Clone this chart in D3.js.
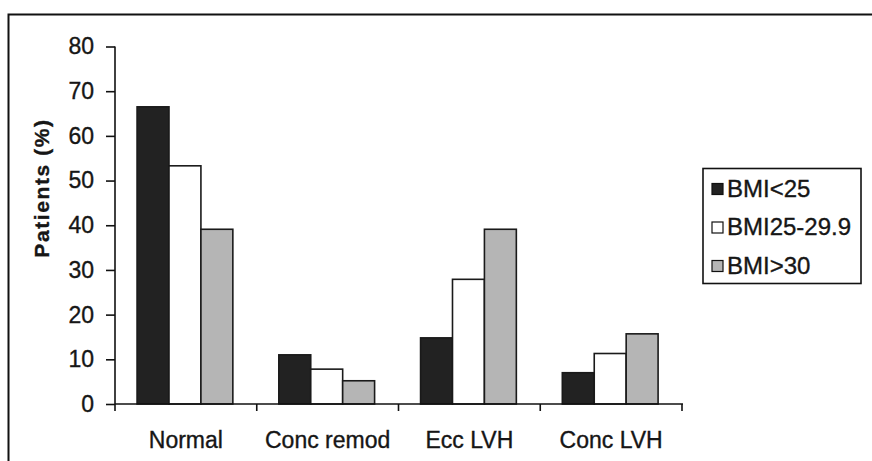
<!DOCTYPE html>
<html>
<head>
<meta charset="utf-8">
<script src="https://cdn.jsdelivr.net/npm/d3@7"></script>
<style>
  body { margin: 0; background: #fff; }
  svg text { font-family: "Liberation Sans", Arial, sans-serif; fill: #161616; stroke: #161616; stroke-width: 0.35px; }
</style>
</head>
<body>
<svg width="872" height="461"></svg>
<script>
var categories = ["Normal", "Conc remod", "Ecc LVH", "Conc LVH"];
var series = ["BMI<25", "BMI25-29.9", "BMI>30"];
var bmiUnder25 = [66.5, 11.0, 14.8, 7.0];
var bmi25to30 = [53.3, 7.8, 27.9, 11.3];
var bmiOver30 = [39.1, 5.2, 39.1, 15.7];
var yTicks = [0, 10, 20, 30, 40, 50, 60, 70, 80];
var colors = ["#222222", "#ffffff", "#b5b5b5"];

var values = [bmiUnder25, bmi25to30, bmiOver30];

var svg = d3.select("svg");

// frame round the figure (only top and left edges show)
svg.append("rect")
    .attr("x", 8.5).attr("y", 14.5)
    .attr("width", 900).attr("height", 500)
    .attr("fill", "none")
    .attr("stroke", "#111")
    .attr("stroke-width", 2);

var x0 = d3.scaleBand()
    .domain(categories)
    .range([115, 682])
    .paddingInner(0);

var x1 = d3.scaleBand()
    .domain(series)
    .range([0, x0.bandwidth()])
    .paddingOuter(0.72)
    .align(0.48);

var y = d3.scaleLinear()
    .domain([0, 80])
    .range([404, 46.5]);

// bars
var groups = svg.append("g")
  .selectAll("g")
  .data(categories)
  .enter().append("g")
    .attr("transform", function(d) { return "translate(" + x0(d) + ",0)"; });

groups.selectAll("rect")
    .data(function(d, i) {
      return series.map(function(s, j) { return {key: s, idx: j, value: values[j][i]}; });
    })
  .enter().append("rect")
    .attr("x", function(d) { return x1(d.key); })
    .attr("y", function(d) { return y(d.value); })
    .attr("width", x1.bandwidth())
    .attr("height", function(d) { return y(0) - y(d.value); })
    .attr("fill", function(d) { return colors[d.idx]; })
    .attr("stroke", "#1a1a1a")
    .attr("stroke-width", 1.6);

// y axis
var yAxis = svg.append("g")
    .attr("transform", "translate(115,0)")
    .call(d3.axisLeft(y).tickValues(yTicks).tickSize(9).tickPadding(12).tickSizeOuter(0));
yAxis.select(".domain").remove();
yAxis.append("line")
    .attr("x1", 0).attr("x2", 0)
    .attr("y1", y(80)).attr("y2", 411)
    .attr("stroke", "#111").attr("stroke-width", 1.6);
yAxis.selectAll(".tick line").attr("stroke", "#111").attr("stroke-width", 1.6);
yAxis.selectAll(".tick text")
    .style("font-size", "23px")
    .style("font-family", "'Liberation Sans', Arial, sans-serif")
    .attr("fill", "#161616");

// x axis
var xAxis = svg.append("g")
    .attr("transform", "translate(0,404)");
xAxis.append("line")
    .attr("x1", 115).attr("x2", 683)
    .attr("stroke", "#111").attr("stroke-width", 1.6);
xAxis.selectAll("line.sep")
    .data(categories.slice(1).concat(["end"]))
  .enter().append("line")
    .attr("class", "sep")
    .attr("x1", function(d, i) { return i < 3 ? x0(d) : 682; })
    .attr("x2", function(d, i) { return i < 3 ? x0(d) : 682; })
    .attr("y1", 0).attr("y2", 7)
    .attr("stroke", "#111").attr("stroke-width", 1.6);
xAxis.selectAll("text")
    .data(categories)
  .enter().append("text")
    .attr("x", function(d) { return x0(d) + x0.bandwidth() / 2; })
    .attr("y", 43.5)
    .attr("text-anchor", "middle")
    .style("font-size", "23px")
    .text(function(d) { return d; });

// y title
svg.append("text")
    .attr("transform", "translate(49,188) rotate(-90)")
    .attr("text-anchor", "middle")
    .style("font-size", "21px")
    .style("font-weight", "bold")
    .style("letter-spacing", "1.6px")
    .text("Patients (%)");

// legend
var legend = svg.append("g");
legend.append("rect")
    .attr("x", 703).attr("y", 168.5)
    .attr("width", 158).attr("height", 115)
    .attr("fill", "#fff")
    .attr("stroke", "#111").attr("stroke-width", 1.6);

var item = legend.selectAll("g.item")
    .data(series)
  .enter().append("g")
    .attr("class", "item")
    .attr("transform", function(d, i) { return "translate(712," + (183.5 + i * 38.5) + ")"; });
item.append("rect")
    .attr("width", 11).attr("height", 11)
    .attr("fill", function(d, i) { return colors[i]; })
    .attr("stroke", "#111").attr("stroke-width", 1.2);
item.append("text")
    .attr("x", 15).attr("y", 13)
    .style("font-size", "24px")
    .text(function(d) { return d; });
</script>
</body>
</html>
